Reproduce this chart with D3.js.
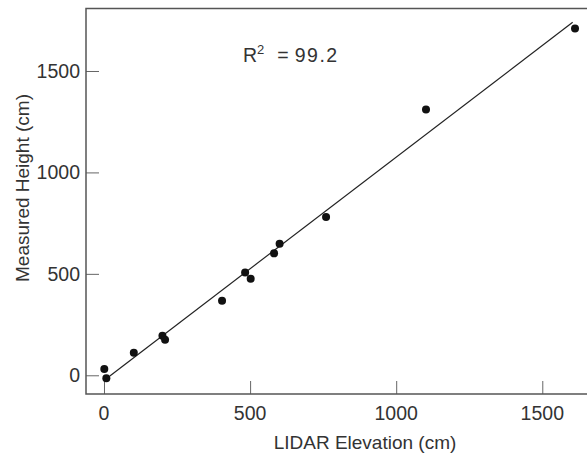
<!DOCTYPE html>
<html><head><meta charset="utf-8">
<script src="https://cdn.jsdelivr.net/npm/d3@7"></script>
<style>
html,body{margin:0;padding:0;background:#fff;}
svg{display:block;}
text{font-family:"Liberation Sans",Arial,sans-serif;fill:#333;}
</style></head>
<body>
<svg id="chart" width="587" height="455"></svg>
<script>
// Data (LIDAR elevation vs measured height, cm)
const lidar    = [1, 8, 102, 200, 209, 404, 483, 502, 582, 601, 760, 1102, 1612];
const measured = [31, -15, 111, 195, 175, 367, 507, 476, 601, 648, 780, 1310, 1709];
const fitX = [20, 1604];
const fitY = [-3, 1740];
const xTicks = [0, 500, 1000, 1500];
const yTicks = [0, 500, 1000, 1500];
const r2Label = "99.2";

(function () {
const svg = d3.select("#chart");
const mLeft = 86, mTop = 8.5, mBottom = 394, mRight = 587;
const x = d3.scaleLinear().domain([-61.6, 1653]).range([mLeft, mRight]);
const y = d3.scaleLinear().domain([-92.2, 1808]).range([mBottom, mTop]);

// x axis (ticks inward)
const xAxis = d3.axisTop(x).tickValues(xTicks).tickSize(13).tickFormat(d3.format("d"));
const gx = svg.append("g").attr("transform", `translate(0,${mBottom})`).call(xAxis);
gx.select(".domain").remove();
gx.selectAll(".tick line").attr("stroke", "#666").attr("stroke-width", 1);
gx.selectAll(".tick text").remove();
svg.append("g").selectAll("text").data(xTicks).join("text")
  .attr("x", d => x(d)).attr("y", 420)
  .attr("text-anchor", "middle").attr("font-size", 19.5).text(d => d);

// y axis (ticks inward)
const yAxis = d3.axisRight(y).tickValues(yTicks).tickSize(13);
const gy = svg.append("g").attr("transform", `translate(${mLeft},0)`).call(yAxis);
gy.select(".domain").remove();
gy.selectAll(".tick line").attr("stroke", "#666").attr("stroke-width", 1);
gy.selectAll(".tick text").remove();
svg.append("g").selectAll("text").data(yTicks).join("text")
  .attr("x", 80).attr("y", d => y(d) + 6.8)
  .attr("text-anchor", "end").attr("font-size", 19.5).text(d => d);

// frame (left, top, bottom)
svg.append("path")
  .attr("d", `M${mRight+5},${mTop}H${mLeft}V${mBottom}H${mRight+5}`)
  .attr("fill", "none").attr("stroke", "#555").attr("stroke-width", 1.5);

// regression line
svg.append("line")
  .attr("x1", x(fitX[0])).attr("y1", y(fitY[0]))
  .attr("x2", x(fitX[1])).attr("y2", y(fitY[1]))
  .attr("stroke", "#222").attr("stroke-width", 1.2);

// points
svg.append("g").selectAll("circle").data(lidar.map((d, i) => [d, measured[i]])).join("circle")
  .attr("cx", d => x(d[0])).attr("cy", d => y(d[1])).attr("r", 4).attr("fill", "#111");

// R^2 annotation
const t = svg.append("text").attr("x", 243).attr("y", 62).attr("font-size", 19.5);
t.append("tspan").text("R");
t.append("tspan").attr("dy", -8).attr("font-size", 13).text("2");
t.append("tspan").attr("dy", 8).attr("dx", 13).text("=");
t.append("tspan").attr("dx", 6).attr("letter-spacing", 1.5).text(r2Label);

// axis titles
svg.append("text").attr("x", 365).attr("y", 449).attr("text-anchor", "middle")
  .attr("font-size", 19).text("LIDAR Elevation (cm)");
svg.append("text").attr("transform", "translate(29,188) rotate(-90)")
  .attr("text-anchor", "middle").attr("font-size", 19).text("Measured Height (cm)");
})();
</script>
</body></html>
